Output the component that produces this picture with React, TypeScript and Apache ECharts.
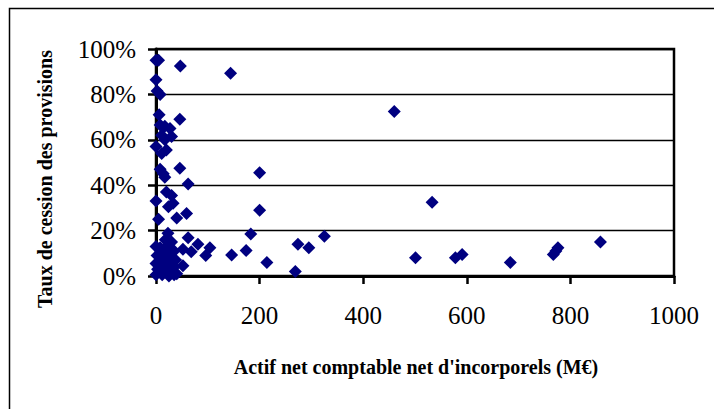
import React, { useEffect, useRef } from "react";
import * as echarts from "echarts";

// Actif net comptable net d'incorporels (M€)
const actifNet: number[] = [
  0, 5, 47, 144, 0, 2, 8, 6, 46, 8, 17, 27, 11, 30, 17, 0, 20, 11,
  46, 8, 14, 17, 62, 20, 30, 0, 24, 59, 40, 5, 33,
  23, 62, 81, 104, 52, 68, 96, 52, 146, 174, 183, 200, 200, 214, 269, 274, 295, 325,
  460, 501, 533, 578, 591, 684, 767, 772, 776, 858,
  0, 8, 20, 27, 35, 2, 12, 20, 30, 38, 0, 10, 25, 35, 3, 15, 28, 40, 0, 12, 25, 35, 18, 30, 8, 22, 15,
];
// Taux de cession des provisions (%)
const tauxCession: number[] = [
  95, 95, 92.5, 89.3, 86.5, 81.5, 80, 71, 69, 66.5, 66, 65, 62, 61.5, 60, 57, 55.5, 54,
  47.5, 47, 45, 43.5, 40.5, 37, 35.5, 33, 30.5, 27.5, 25.5, 25, 32,
  18.8, 16.8, 14, 12.5, 11.8, 10.7, 9, 4.5, 9.3, 11.2, 18.5, 45.5, 29, 6, 2, 14, 12.5, 17.5,
  72.5, 8, 32.5, 8, 9.5, 6, 9.5, 11, 12.5, 15,
  13, 12.5, 13, 12, 11, 9, 8.5, 8, 8.5, 7, 5.5, 6, 5, 4, 3, 2.5, 2, 1, 0.5, 0.5, 0, 0.5, 16, 15, 10, 10.5, 4,
];

const xTicks = [0, 200, 400, 600, 800, 1000];
const yTicks = [0, 20, 40, 60, 80, 100];

const xTitle = "Actif net comptable net d'incorporels (M€)";
const yTitle = "Taux de cession des provisions";

const FONT = "'Liberation Serif', 'Times New Roman', serif";

export default function App() {
  const ref = useRef<HTMLDivElement>(null);
  useEffect(() => {
    if (!ref.current) return;
    const chart = echarts.init(ref.current, null, { renderer: "svg" });
    const data = actifNet.map((x, i) => [x, tauxCession[i] / 100]);
    chart.setOption({
      animation: false,
      backgroundColor: "#ffffff",
      grid: {
        left: 156,
        right: 40,
        top: 49,
        bottom: 133,
        show: true,
        borderColor: "#000",
        borderWidth: 2.5,
        backgroundColor: "transparent",
      },
      xAxis: {
        type: "value",
        min: xTicks[0],
        max: xTicks[xTicks.length - 1],
        interval: 200,
        axisLine: { show: true, onZero: false, lineStyle: { color: "#000", width: 3 } },
        axisTick: { show: true, inside: false, length: 8, lineStyle: { color: "#000", width: 2.5 } },
        splitLine: { show: false },
        axisLabel: {
          color: "#000",
          fontFamily: FONT,
          fontSize: 25,
          margin: 27,
          formatter: (v: number) => String(v),
        },
      },
      yAxis: {
        type: "value",
        min: yTicks[0] / 100,
        max: yTicks[yTicks.length - 1] / 100,
        interval: 0.2,
        axisLine: { show: true, onZero: false, lineStyle: { color: "#000", width: 3 } },
        axisTick: { show: true, inside: false, length: 8, lineStyle: { color: "#000", width: 2.5 } },
        splitLine: { show: true, lineStyle: { color: "#000", width: 1.3 } },
        axisLabel: {
          color: "#000",
          fontFamily: FONT,
          fontSize: 25,
          margin: 20,
          formatter: (v: number) => `${Math.round(v * 100)}%`,
        },
      },
      series: [
        {
          type: "scatter",
          data,
          symbol: "diamond",
          symbolSize: 13,
          itemStyle: { color: "#000080", opacity: 1 },
        },
      ],
      graphic: [
        {
          type: "rect",
          left: 7,
          top: 6,
          shape: { width: 740, height: 440 },
          style: { fill: "none", stroke: "#000", lineWidth: 1.5 },
          silent: true,
        },
        {
          type: "text",
          x: 416,
          y: 367,
          style: {
            text: xTitle,
            fill: "#000",
            font: `bold 20px ${FONT}`,
            align: "center",
            verticalAlign: "middle",
          },
        },
        {
          type: "text",
          x: 45,
          y: 179,
          rotation: Math.PI / 2,
          style: {
            text: yTitle,
            fill: "#000",
            font: `bold 20px ${FONT}`,
            align: "center",
            verticalAlign: "middle",
          },
        },
      ],
    });
    return () => chart.dispose();
  }, []);
  return (
    <div
      ref={ref}
      style={{ position: "fixed", left: 0, top: 0, width: 714, height: 409, background: "#fff" }}
    />
  );
}
